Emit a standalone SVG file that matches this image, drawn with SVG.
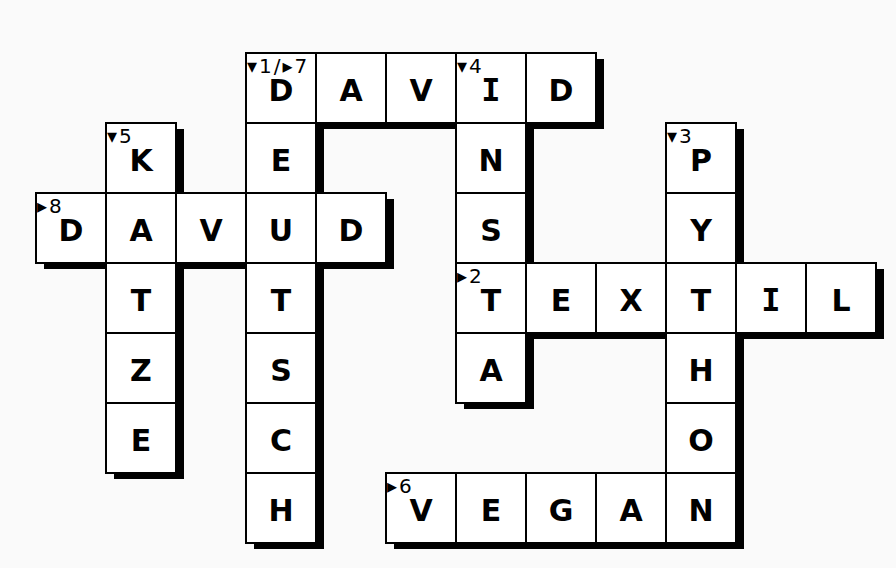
<svg xmlns="http://www.w3.org/2000/svg" width="896" height="568" viewBox="0 0 896 568">
<style>
.bg{fill:#fafafa}
.sh{fill:#000}
.c{fill:#fff;stroke:#000;stroke-width:2}
.l{font-family:"DejaVu Sans",sans-serif;font-weight:bold;font-size:30px;text-anchor:middle;fill:#000}
.i{font-family:"DejaVu Sans Mono",monospace;font-size:32px}
.n{font-family:"DejaVu Sans",sans-serif;font-size:20px;letter-spacing:2px;fill:#000}
</style>
<rect class="bg" x="0" y="0" width="896" height="568"/>
<g id="shadows">
<rect class="sh" x="254" y="59" width="70" height="70"/><rect class="sh" x="324" y="59" width="70" height="70"/><rect class="sh" x="394" y="59" width="70" height="70"/><rect class="sh" x="464" y="59" width="70" height="70"/><rect class="sh" x="534" y="59" width="70" height="70"/>
<rect class="sh" x="254" y="129" width="70" height="70"/><rect class="sh" x="254" y="199" width="70" height="70"/><rect class="sh" x="254" y="269" width="70" height="70"/><rect class="sh" x="254" y="339" width="70" height="70"/><rect class="sh" x="254" y="409" width="70" height="70"/><rect class="sh" x="254" y="479" width="70" height="70"/>
<rect class="sh" x="464" y="129" width="70" height="70"/><rect class="sh" x="464" y="199" width="70" height="70"/><rect class="sh" x="464" y="269" width="70" height="70"/><rect class="sh" x="464" y="339" width="70" height="70"/>
<rect class="sh" x="114" y="129" width="70" height="70"/><rect class="sh" x="114" y="199" width="70" height="70"/><rect class="sh" x="114" y="269" width="70" height="70"/><rect class="sh" x="114" y="339" width="70" height="70"/><rect class="sh" x="114" y="409" width="70" height="70"/>
<rect class="sh" x="44" y="199" width="70" height="70"/><rect class="sh" x="184" y="199" width="70" height="70"/><rect class="sh" x="324" y="199" width="70" height="70"/>
<rect class="sh" x="674" y="129" width="70" height="70"/><rect class="sh" x="674" y="199" width="70" height="70"/><rect class="sh" x="674" y="269" width="70" height="70"/><rect class="sh" x="674" y="339" width="70" height="70"/><rect class="sh" x="674" y="409" width="70" height="70"/><rect class="sh" x="674" y="479" width="70" height="70"/>
<rect class="sh" x="534" y="269" width="70" height="70"/><rect class="sh" x="604" y="269" width="70" height="70"/><rect class="sh" x="744" y="269" width="70" height="70"/><rect class="sh" x="814" y="269" width="70" height="70"/>
<rect class="sh" x="394" y="479" width="70" height="70"/><rect class="sh" x="464" y="479" width="70" height="70"/><rect class="sh" x="534" y="479" width="70" height="70"/><rect class="sh" x="604" y="479" width="70" height="70"/>
</g>
<g id="cells">
<g id="c3-0"><rect class="c" x="246" y="53" width="70" height="70"/><text class="l" x="281" y="101">D</text><text class="n" x="247" y="73">▾1/▸7</text></g>
<g id="c4-0"><rect class="c" x="316" y="53" width="70" height="70"/><text class="l" x="351" y="101">A</text></g>
<g id="c5-0"><rect class="c" x="386" y="53" width="70" height="70"/><text class="l" x="421" y="101">V</text></g>
<g id="c6-0"><rect class="c" x="456" y="53" width="70" height="70"/><text class="l i" x="491" y="101">I</text><text class="n" x="457" y="73">▾4</text></g>
<g id="c7-0"><rect class="c" x="526" y="53" width="70" height="70"/><text class="l" x="561" y="101">D</text></g>
<g id="c3-1"><rect class="c" x="246" y="123" width="70" height="70"/><text class="l" x="281" y="171">E</text></g>
<g id="c3-2"><rect class="c" x="246" y="193" width="70" height="70"/><text class="l" x="281" y="241">U</text></g>
<g id="c3-3"><rect class="c" x="246" y="263" width="70" height="70"/><text class="l" x="281" y="311">T</text></g>
<g id="c3-4"><rect class="c" x="246" y="333" width="70" height="70"/><text class="l" x="281" y="381">S</text></g>
<g id="c3-5"><rect class="c" x="246" y="403" width="70" height="70"/><text class="l" x="281" y="451">C</text></g>
<g id="c3-6"><rect class="c" x="246" y="473" width="70" height="70"/><text class="l" x="281" y="521">H</text></g>
<g id="c6-1"><rect class="c" x="456" y="123" width="70" height="70"/><text class="l" x="491" y="171">N</text></g>
<g id="c6-2"><rect class="c" x="456" y="193" width="70" height="70"/><text class="l" x="491" y="241">S</text></g>
<g id="c6-3"><rect class="c" x="456" y="263" width="70" height="70"/><text class="l" x="491" y="311">T</text><text class="n" x="457" y="283">▸2</text></g>
<g id="c6-4"><rect class="c" x="456" y="333" width="70" height="70"/><text class="l" x="491" y="381">A</text></g>
<g id="c1-1"><rect class="c" x="106" y="123" width="70" height="70"/><text class="l" x="141" y="171">K</text><text class="n" x="107" y="143">▾5</text></g>
<g id="c1-2"><rect class="c" x="106" y="193" width="70" height="70"/><text class="l" x="141" y="241">A</text></g>
<g id="c1-3"><rect class="c" x="106" y="263" width="70" height="70"/><text class="l" x="141" y="311">T</text></g>
<g id="c1-4"><rect class="c" x="106" y="333" width="70" height="70"/><text class="l" x="141" y="381">Z</text></g>
<g id="c1-5"><rect class="c" x="106" y="403" width="70" height="70"/><text class="l" x="141" y="451">E</text></g>
<g id="c0-2"><rect class="c" x="36" y="193" width="70" height="70"/><text class="l" x="71" y="241">D</text><text class="n" x="37" y="213">▸8</text></g>
<g id="c2-2"><rect class="c" x="176" y="193" width="70" height="70"/><text class="l" x="211" y="241">V</text></g>
<g id="c4-2"><rect class="c" x="316" y="193" width="70" height="70"/><text class="l" x="351" y="241">D</text></g>
<g id="c9-1"><rect class="c" x="666" y="123" width="70" height="70"/><text class="l" x="701" y="171">P</text><text class="n" x="667" y="143">▾3</text></g>
<g id="c9-2"><rect class="c" x="666" y="193" width="70" height="70"/><text class="l" x="701" y="241">Y</text></g>
<g id="c9-3"><rect class="c" x="666" y="263" width="70" height="70"/><text class="l" x="701" y="311">T</text></g>
<g id="c9-4"><rect class="c" x="666" y="333" width="70" height="70"/><text class="l" x="701" y="381">H</text></g>
<g id="c9-5"><rect class="c" x="666" y="403" width="70" height="70"/><text class="l" x="701" y="451">O</text></g>
<g id="c9-6"><rect class="c" x="666" y="473" width="70" height="70"/><text class="l" x="701" y="521">N</text></g>
<g id="c7-3"><rect class="c" x="526" y="263" width="70" height="70"/><text class="l" x="561" y="311">E</text></g>
<g id="c8-3"><rect class="c" x="596" y="263" width="70" height="70"/><text class="l" x="631" y="311">X</text></g>
<g id="c10-3"><rect class="c" x="736" y="263" width="70" height="70"/><text class="l i" x="771" y="311">I</text></g>
<g id="c11-3"><rect class="c" x="806" y="263" width="70" height="70"/><text class="l" x="841" y="311">L</text></g>
<g id="c5-6"><rect class="c" x="386" y="473" width="70" height="70"/><text class="l" x="421" y="521">V</text><text class="n" x="387" y="493">▸6</text></g>
<g id="c6-6"><rect class="c" x="456" y="473" width="70" height="70"/><text class="l" x="491" y="521">E</text></g>
<g id="c7-6"><rect class="c" x="526" y="473" width="70" height="70"/><text class="l" x="561" y="521">G</text></g>
<g id="c8-6"><rect class="c" x="596" y="473" width="70" height="70"/><text class="l" x="631" y="521">A</text></g>
</g>
<g id="connectors"/>
</svg>
